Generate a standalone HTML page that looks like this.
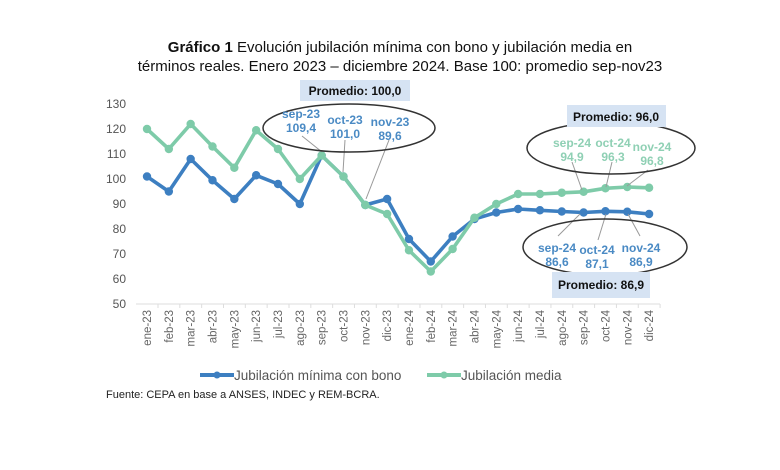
<!DOCTYPE html>
<html><head><meta charset="utf-8"><style>
body{margin:0;background:#fff;}
svg{display:block;font-family:"Liberation Sans",sans-serif;}
</style></head><body>
<svg width="780" height="470" viewBox="0 0 780 470">
<text x="400" y="52" text-anchor="middle" font-size="15" fill="#111"><tspan font-weight="bold">Gráfico 1</tspan>    Evolución jubilación mínima con bono y jubilación media en</text>
<text x="400" y="71" text-anchor="middle" font-size="15" fill="#111">términos reales. Enero 2023 – diciembre 2024. Base 100: promedio sep-nov23</text>
<g font-size="12" fill="#555" text-anchor="end">
<text x="126" y="108">130</text><text x="126" y="133">120</text><text x="126" y="158">110</text><text x="126" y="183">100</text><text x="126" y="208">90</text><text x="126" y="233">80</text><text x="126" y="258">70</text><text x="126" y="283">60</text><text x="126" y="308">50</text>
</g>
<line x1="136" y1="304" x2="660" y2="304" stroke="#ddd"/>
<g id="xl" font-size="11.5" fill="#666" text-anchor="end"></g>
<g id="lines"></g>
<!-- ellipse 1 -->
<line x1="302" y1="136" x2="322" y2="152" stroke="#999"/>
<line x1="345" y1="140" x2="343" y2="172" stroke="#999"/>
<line x1="389" y1="140" x2="366" y2="199" stroke="#999"/>
<ellipse cx="349" cy="128" rx="86" ry="24" fill="none" stroke="#333" stroke-width="1.5"/>
<rect x="300" y="80" width="110" height="21" fill="#d6e3f3"/>
<text x="355" y="95" text-anchor="middle" font-size="12" font-weight="bold" fill="#111">Promedio: 100,0</text>
<g font-size="12" font-weight="bold" fill="#4a8ac4" text-anchor="middle">
<text x="301" y="118">sep-23</text><text x="301" y="132">109,4</text>
<text x="345" y="124">oct-23</text><text x="345" y="138">101,0</text>
<text x="390" y="126">nov-23</text><text x="390" y="140">89,6</text>
</g>
<!-- ellipse 2 -->
<line x1="572" y1="162" x2="582" y2="190" stroke="#999"/>
<line x1="612" y1="162" x2="606" y2="187" stroke="#999"/>
<line x1="648" y1="170" x2="627" y2="186" stroke="#999"/>
<ellipse cx="611" cy="148" rx="84" ry="26" fill="none" stroke="#333" stroke-width="1.5"/>
<rect x="567" y="105" width="99" height="22" fill="#d6e3f3"/>
<text x="616" y="121" text-anchor="middle" font-size="12" font-weight="bold" fill="#111">Promedio: 96,0</text>
<g font-size="12" font-weight="bold" fill="#8fd0b4" text-anchor="middle">
<text x="572" y="147">sep-24</text><text x="572" y="161">94,9</text>
<text x="613" y="147">oct-24</text><text x="613" y="161">96,3</text>
<text x="652" y="151">nov-24</text><text x="652" y="165">96,8</text>
</g>
<!-- ellipse 3 -->
<line x1="580" y1="214" x2="558" y2="236" stroke="#999"/>
<line x1="606" y1="214" x2="598" y2="240" stroke="#999"/>
<line x1="628" y1="214" x2="640" y2="236" stroke="#999"/>
<ellipse cx="605" cy="247" rx="82" ry="28" fill="none" stroke="#333" stroke-width="1.5"/>
<rect x="552" y="272" width="98" height="26" fill="#d6e3f3"/>
<text x="601" y="289" text-anchor="middle" font-size="12" font-weight="bold" fill="#111">Promedio: 86,9</text>
<g font-size="12" font-weight="bold" fill="#4a8ac4" text-anchor="middle">
<text x="557" y="252">sep-24</text><text x="557" y="266">86,6</text>
<text x="597" y="254">oct-24</text><text x="597" y="268">87,1</text>
<text x="641" y="252">nov-24</text><text x="641" y="266">86,9</text>
</g>
<!-- legend -->
<line x1="200" y1="375" x2="234" y2="375" stroke="#3d7fc1" stroke-width="4"/><circle cx="217" cy="375" r="3.5" fill="#3d7fc1"/>
<text x="234" y="380" font-size="13.5" fill="#555">Jubilación mínima con bono</text>
<line x1="427" y1="375" x2="461" y2="375" stroke="#7ecba9" stroke-width="4"/><circle cx="444" cy="375" r="3.5" fill="#7ecba9"/>
<text x="461" y="380" font-size="13.5" fill="#555">Jubilación media</text>
<text x="106" y="398" font-size="11" fill="#222">Fuente: CEPA en base a ANSES, INDEC y REM-BCRA.</text>
</svg>
<script>
var m=["ene","feb","mar","abr","may","jun","jul","ago","sep","oct","nov","dic"];
var xl=document.getElementById("xl"),s="";
function X(i){return 147+i*21.83;}function Y(v){return 304-(v-50)*2.5;}
for(var i=0;i<24;i++){var x=X(i)+4;s+='<text transform="translate('+x+',310) rotate(-90)">'+m[i%12]+'-'+(i<12?23:24)+'</text>';s+='<line x1="'+(X(i)+11)+'" y1="304" x2="'+(X(i)+11)+'" y2="308" stroke="#ddd"/>';}
xl.innerHTML=s;
var b=[101,95,108,99.5,92,101.5,98,90,109.4,101,89.6,92,76,67,77,84,86.6,88,87.5,87,86.6,87.1,86.9,86];
var g=[120,112,122,113,104.5,119.5,112,100,109.4,101,89.6,86,71.5,63,72,84.5,90,94,94,94.5,94.9,96.3,96.8,96.5];
function ser(d,c){var p=d.map(function(v,i){return X(i).toFixed(1)+","+Y(v).toFixed(1)}).join(" ");var r='<polyline points="'+p+'" fill="none" stroke="'+c+'" stroke-width="3.6" stroke-linejoin="round"/>';d.forEach(function(v,i){r+='<circle cx="'+X(i)+'" cy="'+Y(v)+'" r="4.2" fill="'+c+'"/>'});return r;}
document.getElementById("lines").innerHTML=ser(b,"#3d7fc1")+ser(g,"#7ecba9");
</script>
</body></html>
